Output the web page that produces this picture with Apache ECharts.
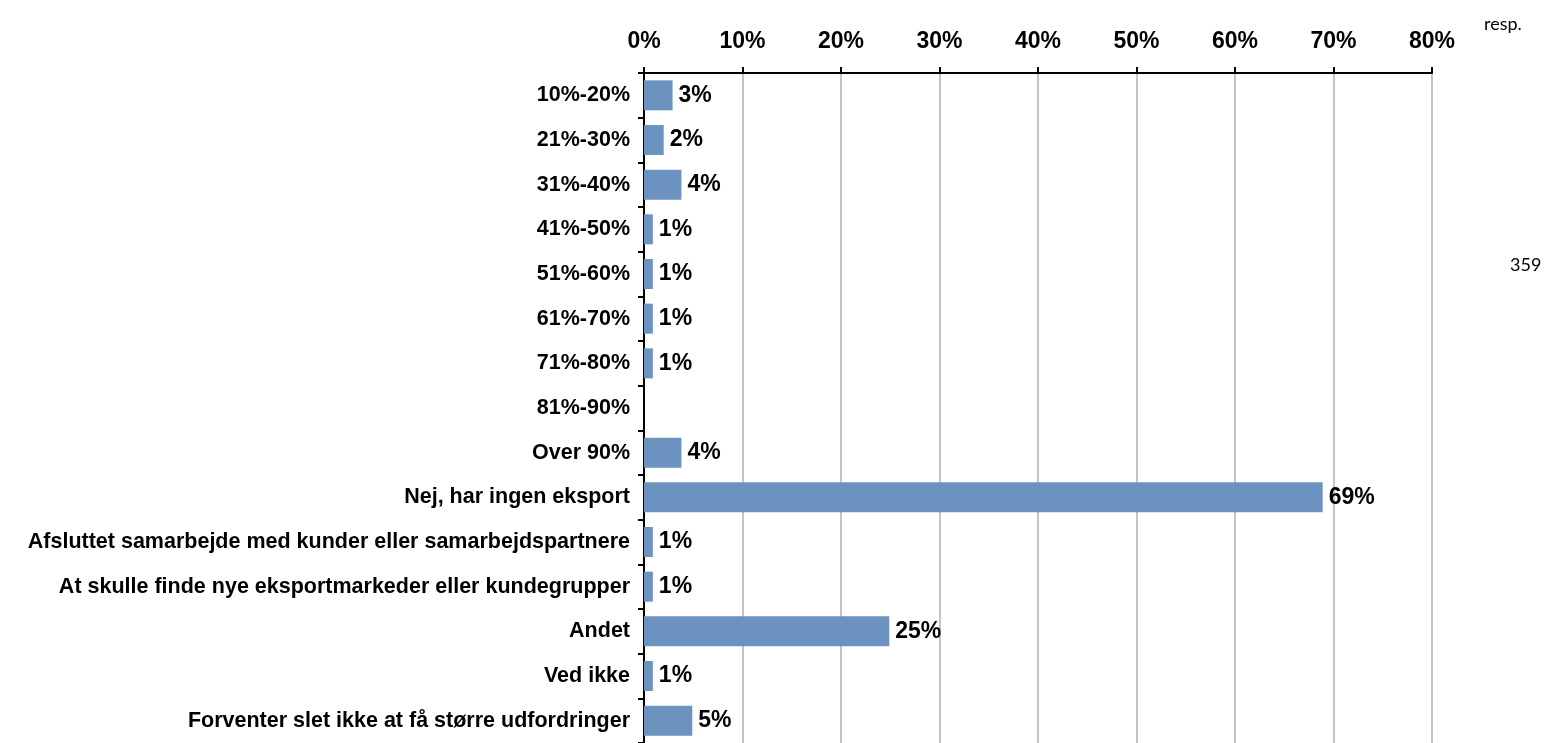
<!DOCTYPE html>
<html>
<head>
<meta charset="utf-8">
<script src="https://cdn.jsdelivr.net/npm/echarts@6/dist/echarts.min.js"></script>
<style>
  html, body { margin: 0; padding: 0; background: #fff; }
  #main { width: 1554px; height: 743px; }
</style>
</head>
<body>
<div id="main"></div>
<script>
const categories = [
  '10%-20%', '21%-30%', '31%-40%', '41%-50%', '51%-60%', '61%-70%', '71%-80%',
  '81%-90%', 'Over 90%', 'Nej, har ingen eksport',
  'Afsluttet samarbejde med kunder eller samarbejdspartnere',
  'At skulle finde nye eksportmarkeder eller kundegrupper',
  'Andet', 'Ved ikke', 'Forventer slet ikke at få større udfordringer'
]
const shares = [2.9, 2.0, 3.8, 0.9, 0.9, 0.9, 0.9, 0, 3.8, 68.9, 0.9, 0.9, 24.9, 0.9, 4.9]
const respLabel = 'resp.'
const respCount = '359'

const chart = echarts.init(document.getElementById('main'))
const boldFont = 'Liberation Sans, Arial, sans-serif'

chart.setOption({
  animation: false,
  grid: { left: 644, right: 122, top: 73, bottom: -3, containLabel: false },
  xAxis: {
    type: 'value',
    position: 'top',
    min: 0,
    max: 80,
    interval: 10,
    axisLine: { show: true, lineStyle: { color: '#000', width: 2 } },
    axisTick: { show: true, length: 6, lineStyle: { color: '#000', width: 2 } },
    axisLabel: {
      formatter: '{value}%',
      fontFamily: boldFont,
      fontWeight: 'bold',
      fontSize: 23,
      color: '#000',
      margin: 20
    },
    splitLine: { show: true, lineStyle: { color: '#c4c4c4', width: 2 } }
  },
  yAxis: {
    type: 'category',
    inverse: true,
    data: categories,
    axisLine: { show: true, lineStyle: { color: '#000', width: 2 } },
    axisTick: { show: true, length: 6, lineStyle: { color: '#000', width: 2 } },
    axisLabel: {
      fontFamily: boldFont,
      fontWeight: 'bold',
      fontSize: 21.5,
      color: '#000',
      margin: 14
    }
  },
  series: [{
    type: 'bar',
    data: shares,
    barWidth: 30,
    itemStyle: { color: '#6c93bf' },
    label: {
      show: true,
      position: 'right',
      distance: 6,
      fontFamily: boldFont,
      fontWeight: 'bold',
      fontSize: 23,
      color: '#000',
      formatter: p => (p.value > 0 ? Math.round(p.value) + '%' : '')
    }
  }],
  graphic: [
    {
      type: 'text',
      left: 1484,
      top: 15,
      style: { text: respLabel, font: '18px Lato, "Open Sans", sans-serif', fill: '#000' }
    },
    {
      type: 'text',
      left: 1510,
      top: 256,
      style: { text: respCount, font: '18px Lato, "Open Sans", sans-serif', fill: '#000' }
    }
  ]
})
</script>
</body>
</html>
